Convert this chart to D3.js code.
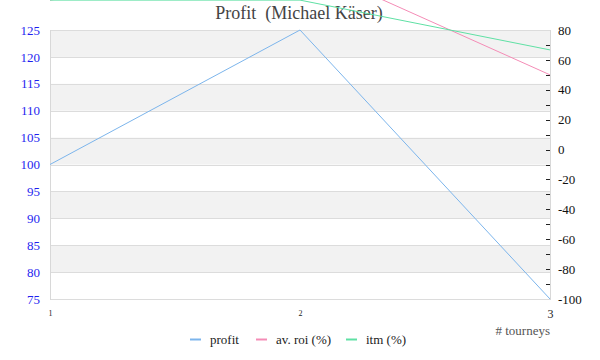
<!DOCTYPE html>
<html><head><meta charset="utf-8">
<script src="https://cdn.jsdelivr.net/npm/d3@7/dist/d3.min.js"></script>
<style>body{margin:0;background:#fff}svg{display:block}</style>
</head><body><svg id="c" width="600" height="360"></svg>
<script>
const tourneys = [1, 2, 3];
const profit = [100, 125, 75];
const avRoi = [100, 125, 50];
const itm = [100, 100, 66.67];
const leftTicks = [75, 80, 85, 90, 95, 100, 105, 110, 115, 120, 125];
const rightTicks = [-100, -80, -60, -40, -20, 0, 20, 40, 60, 80];
const seriesNames = ["profit", "av. roi (%)", "itm (%)"];
const seriesColors = ["#7cb5ec", "#f48cb6", "#5fe0a4"];
const titleText = "Profit  (Michael Käser)";
const xTitle = "# tourneys";

const svg = d3.select("#c");
const font = "'Liberation Serif', 'DejaVu Serif', serif";
const L = 50, R = 550, T = 30, B = 299;
const x = d3.scaleLinear().domain([1, 3]).range([L, R]);
const yL = d3.scaleLinear().domain([75, 125]).range([B, T]);
const yR = d3.scaleLinear().domain([-100, 80]).range([B, T]);

// bands
const bandG = svg.append("g");
for (let i = 0; i < leftTicks.length - 1; i++) {
  const lo = leftTicks[i], hi = leftTicks[i + 1];
  if ((leftTicks.length - 2 - i) % 2 === 0) {
    bandG.append("rect").attr("x", L).attr("width", R - L)
      .attr("y", yL(hi)).attr("height", yL(lo) - yL(hi)).attr("fill", "#f2f2f2");
  }
}
// grid lines
svg.append("g").selectAll("line").data(leftTicks).join("line")
  .attr("x1", L).attr("x2", R).attr("y1", d => Math.round(yL(d)) + 0.5).attr("y2", d => Math.round(yL(d)) + 0.5)
  .attr("stroke", "#dcdcdc");
// frame
svg.append("line").attr("x1", L + 0.5).attr("x2", L + 0.5).attr("y1", T).attr("y2", B + 1).attr("stroke", "#d8d8d8");
svg.append("line").attr("x1", R + 0.5).attr("x2", R + 0.5).attr("y1", T).attr("y2", B + 1).attr("stroke", "#d8d8d8");

// title
svg.append("text").attr("x", 299).attr("y", 19).attr("text-anchor", "middle")
  .style("white-space", "pre").attr("xml:space", "preserve")
  .attr("font-family", font).attr("font-size", 18).attr("fill", "#444").text(titleText);

// left axis
const la = svg.append("g").attr("transform", `translate(${L},0)`)
  .call(d3.axisLeft(yL).tickValues(leftTicks).tickSize(0).tickPadding(10));
la.select(".domain").remove();
la.selectAll("text").attr("font-family", font).attr("font-size", 13).attr("fill", "#1f1fef");

// right axis
const ra = svg.append("g").attr("transform", `translate(${R},0)`)
  .call(d3.axisRight(yR).tickValues(rightTicks).tickFormat(d => String(d)).tickSize(0).tickPadding(8));
ra.select(".domain").remove();
ra.selectAll("text").attr("font-family", font).attr("font-size", 13).attr("fill", "#111");
const minor = d3.range(-90, 80, 10);
svg.append("g").selectAll("line").data(minor).join("line")
  .attr("x1", R - 4).attr("x2", R).attr("y1", d => Math.round(yR(d)) + 0.5).attr("y2", d => Math.round(yR(d)) + 0.5)
  .attr("stroke", "#222");

// x axis labels
const xa = svg.append("g").attr("transform", `translate(0,${B})`)
  .call(d3.axisBottom(x).tickValues(tourneys).tickFormat(d3.format("d")).tickSize(0).tickPadding(10));
xa.select(".domain").remove();
xa.selectAll("text").attr("font-family", font).attr("fill", "#222")
  .attr("font-size", (d, i) => i === tourneys.length - 1 ? 12 : 8)
  .attr("dy", (d, i) => i === tourneys.length - 1 ? "0.71em" : "0.9em");
svg.append("text").attr("x", R).attr("y", 335).attr("text-anchor", "end")
  .attr("font-family", font).attr("font-size", 13).attr("fill", "#555").text(xTitle);

// lines
const lineL = d3.line().x((d, i) => x(tourneys[i])).y(d => yL(d));
const lineR = d3.line().x((d, i) => x(tourneys[i])).y(d => yR(d));
svg.append("path").attr("d", lineR(avRoi)).attr("fill", "none").attr("stroke", seriesColors[1]).attr("stroke-width", 1);
svg.append("path").attr("d", lineR(itm)).attr("fill", "none").attr("stroke", seriesColors[2]).attr("stroke-width", 1);
svg.append("path").attr("d", lineL(profit)).attr("fill", "none").attr("stroke", seriesColors[0]).attr("stroke-width", 1);

// legend
const legX = [190, 256, 346];
const lg = svg.append("g");
seriesNames.forEach((n, i) => {
  lg.append("line").attr("x1", legX[i]).attr("x2", legX[i] + 11).attr("y1", 339.5).attr("y2", 339.5)
    .attr("stroke", seriesColors[i]).attr("stroke-width", 2);
  lg.append("text").attr("x", legX[i] + 20).attr("y", 344).attr("font-family", font)
    .attr("font-size", 13).attr("fill", "#222").text(n);
});
</script></body></html>
